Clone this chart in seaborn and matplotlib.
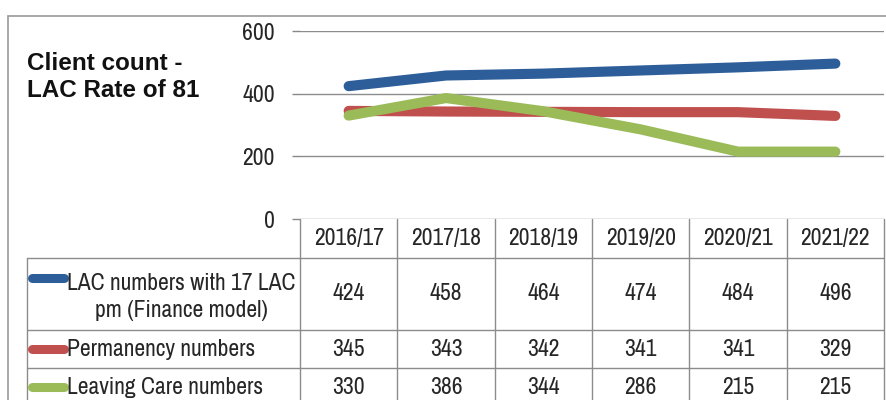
import numpy as np
import pandas as pd
import matplotlib
matplotlib.use("Agg")
import matplotlib.pyplot as plt
import matplotlib.transforms as mtransforms
import seaborn as sns

# ---------------- data ----------------
years = ["2016/17", "2017/18", "2018/19", "2019/20", "2020/21", "2021/22"]
series_names = ["LAC numbers with 17 LAC\npm (Finance model)",
                "Permanency numbers",
                "Leaving Care numbers"]
lac_values = [424, 458, 464, 474, 484, 496]
permanency_values = [345, 343, 342, 341, 341, 329]
leaving_care_values = [330, 386, 344, 286, 215, 215]
y_ticks = [0, 200, 400, 600]
title_text = "Client count -\nLAC Rate of 81"

colors = ["#2E5E9A", "#C0504D", "#9BBB59"]

# ---------------- fonts ----------------
sns.set_theme(style="white")
plt.rcParams["font.family"] = ["Archivo Narrow", "Liberation Sans", "DejaVu Sans"]

all_values = [lac_values, permanency_values, leaving_care_values]
df = pd.DataFrame({
    "year": years * 3,
    "value": lac_values + permanency_values + leaving_care_values,
    "series": sum([[n] * len(years) for n in series_names], []),
})

W, H = 887, 400
fig = plt.figure(figsize=(W / 100, H / 100), dpi=100)

def fx(px):
    return px / W

def fy(py):
    return 1 - py / H

FS = 17
ax_left, ax_right, ax_top, ax_bot = 300, 884, 31, 219
ax = fig.add_axes([fx(ax_left), fy(ax_bot), fx(ax_right - ax_left), (ax_bot - ax_top) / H])

sns.lineplot(data=df, x="year", y="value", hue="series", palette=colors,
             hue_order=series_names, linewidth=7.3, sort=False, legend=False,
             ax=ax, solid_capstyle="round", solid_joinstyle="round", zorder=3)

ax.set_xlim(-0.5, len(years) - 0.5)
ax.set_ylim(0, 600)
ax.set_yticks(y_ticks)
ax.set_yticklabels([str(t) for t in y_ticks], fontsize=FS)
ax.tick_params(axis="y", length=6, width=1, color="#888888", pad=12, left=True)
ax.tick_params(axis="x", bottom=False, labelbottom=False)
ax.set_xlabel("")
ax.set_ylabel("")
for s in ax.spines.values():
    s.set_visible(False)
ax.grid(False)
for t in y_ticks:
    ax.axhline(t, color="#8C8C8C", lw=1.0, zorder=1)

# Title (bold face from a family that ships a bold weight)
fig.text(fx(27), fy(52), title_text, fontsize=17.5, fontweight="bold",
         family=["Liberation Sans", "DejaVu Sans"],
         ha="left", va="top", linespacing=1.2, color="#111111")

# Outer frame
line_c = "#9A9A9A"
fig.add_artist(plt.Line2D([fx(8), fx(8)], [fy(16), fy(400)], color=line_c, lw=1.2))
fig.add_artist(plt.Line2D([fx(8), fx(887)], [fy(16), fy(16)], color=line_c, lw=1.2))

# ---------------- data table ----------------
trans = mtransforms.blended_transform_factory(ax.transData, fig.transFigure)
row_edges = [219, 258, 330, 368, 406]
label_left = 27
tcol = "#8C8C8C"

for k in range(len(years) + 1):
    xb = k - 0.5
    fig.add_artist(plt.Line2D([xb, xb], [fy(219), fy(400)], color=tcol, lw=1.0,
                              transform=trans))
for r in row_edges[1:4]:
    fig.add_artist(plt.Line2D([fx(label_left), fx(ax_right)], [fy(r), fy(r)],
                              color=tcol, lw=1.0))
fig.add_artist(plt.Line2D([fx(label_left), fx(label_left)], [fy(258), fy(400)],
                          color=tcol, lw=1.0))

for i, y in enumerate(years):
    fig.text(i, fy((row_edges[0] + row_edges[1]) / 2), y, transform=trans,
             ha="center", va="center", fontsize=FS)

for r, (name, vals, c) in enumerate(zip(series_names, all_values, colors)):
    yc = (row_edges[r + 1] + row_edges[r + 2]) / 2
    for i, v in enumerate(vals):
        fig.text(i, fy(yc), str(v), transform=trans, ha="center", va="center",
                 fontsize=FS)
    if "\n" in name:
        fig.text(fx(181), fy(yc + 3), name, ha="center", va="center",
                 multialignment="center", fontsize=FS, linespacing=1.35)
        key_y = yc - 16
    else:
        fig.text(fx(67), fy(yc), name, ha="left", va="center", fontsize=FS)
        key_y = yc
    fig.add_artist(plt.Line2D([fx(32), fx(64)], [fy(key_y), fy(key_y)], color=c,
                              lw=6.5, solid_capstyle="round"))

fig.savefig("out.png", dpi=100)
